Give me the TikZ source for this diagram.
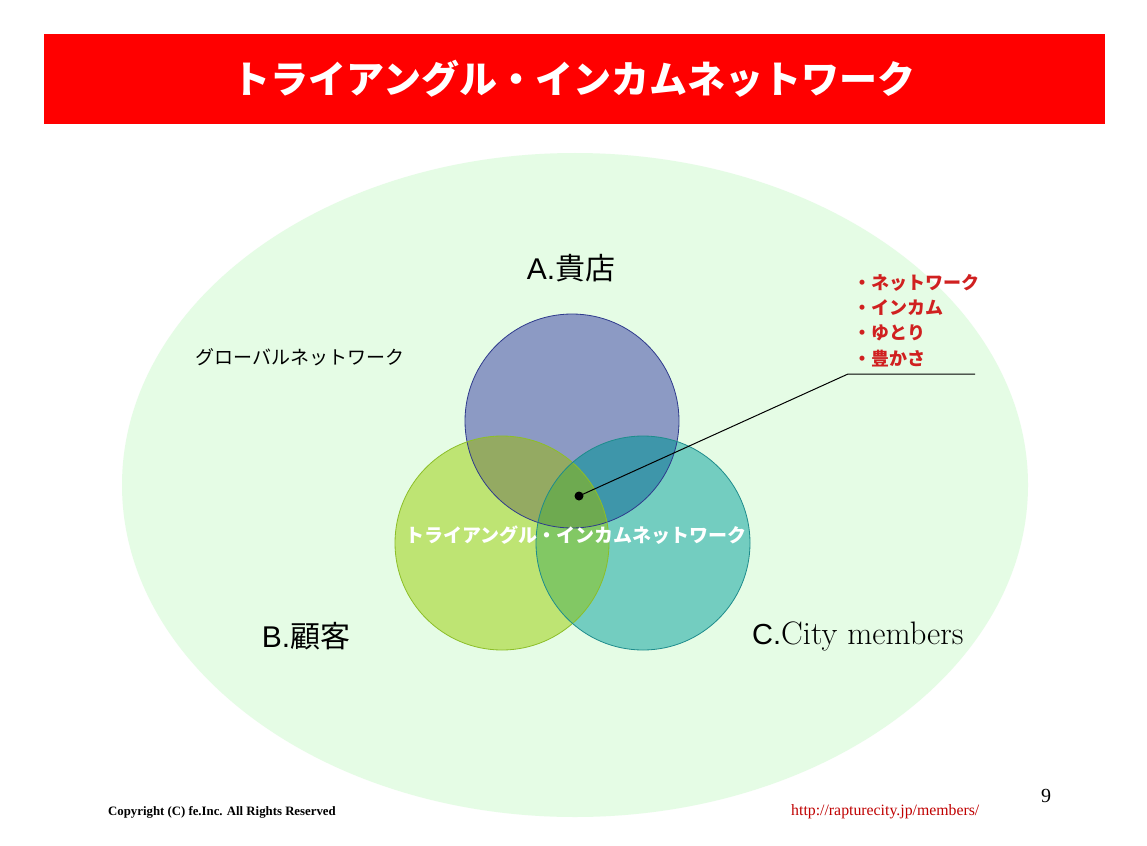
\documentclass[tikz,border=0pt]{standalone}
\usepackage{fontspec}
\newfontfamily\jp{Noto Sans CJK JP}
\newfontfamily\tnr{Liberation Serif}
\newfontfamily\arial{Liberation Sans}
\definecolor{bannerred}{RGB}{255,0,0}
\definecolor{bggreen}{RGB}{229,252,229}
\definecolor{colA}{RGB}{140,154,196}
\definecolor{colB}{RGB}{190,228,115}
\definecolor{colC}{RGB}{115,205,192}
\definecolor{colAB}{RGB}{148,170,98}
\definecolor{colAC}{RGB}{62,150,170}
\definecolor{colBC}{RGB}{130,200,100}
\definecolor{colABC}{RGB}{110,170,80}
\definecolor{lineA}{RGB}{46,58,140}
\definecolor{lineB}{RGB}{140,190,40}
\definecolor{lineC}{RGB}{30,140,140}
\definecolor{listred}{RGB}{208,32,32}
\definecolor{urlred}{RGB}{192,0,0}
\tikzset{
  banner/.style={fill=bannerred, draw=none, minimum width=1061pt, minimum height=90pt, inner sep=0pt},
  titletext/.style={text=white, font=\jp\bfseries\fontsize{38}{40}\selectfont, inner sep=0pt},
  venntext/.style={text=white, font=\jp\bfseries\fontsize{19}{21}\selectfont, inner sep=0pt},
  lbl/.style={font=\jp\fontsize{30}{32}\selectfont, inner sep=0pt},
  small/.style={font=\jp\fontsize{19}{21}\selectfont, inner sep=0pt},
  redlist/.style={text=listred, font=\jp\bfseries\fontsize{18}{25.3}\selectfont, align=left, inner sep=0pt},
  foot/.style={inner sep=0pt},
  circ/.style={line width=0.8pt},
}
\begin{document}
\begin{tikzpicture}[x=1pt,y=-1pt]
\useasboundingbox (0,0) rectangle (1147,845);
\fill[white] (0,0) rectangle (1147,845);
% background ellipse
\fill[bggreen] (575,485) ellipse [x radius=453pt, y radius=332pt];
% banner
\node[banner] (banner) at (574.5,79) {};
\node[titletext] (title) at (574,79) {トライアングル・インカムネットワーク};
% Venn circles
\coordinate (cA) at (572,421);
\coordinate (cB) at (502,543);
\coordinate (cC) at (643,543);
\fill[colA] (cA) circle[radius=107pt];
\fill[colB] (cB) circle[radius=107pt];
\fill[colC] (cC) circle[radius=107pt];
\begin{scope}
  \clip (cA) circle[radius=107pt];
  \fill[colAB] (cB) circle[radius=107pt];
  \fill[colAC] (cC) circle[radius=107pt];
  \clip (cB) circle[radius=107pt];
  \fill[colABC] (cC) circle[radius=107pt];
\end{scope}
\begin{scope}
  \clip (cB) circle[radius=107pt];
  \clip (cC) circle[radius=107pt];
  \fill[colBC] (cC) circle[radius=107pt];
  \clip (cA) circle[radius=107pt];
  \fill[colABC] (cA) circle[radius=107pt];
\end{scope}
\draw[circ, lineA] (cA) circle[radius=107pt];
\draw[circ, lineB] (cB) circle[radius=107pt];
\draw[circ, lineC] (cC) circle[radius=107pt];
% center text
\node[venntext] (vtext) at (576,535) {トライアングル・インカムネットワーク};
% pointer
\coordinate (dot) at (579,496);
\coordinate (bend) at (848,374);
\coordinate (lend) at (975,374);
\fill[black] (dot) circle[radius=4.5pt];
\draw[line width=1pt] (dot) -- (bend) -- (lend);
% list
\node[redlist, anchor=north west] (list) at (853,274) {・ネットワーク\\・インカム\\・ゆとり\\・豊かさ};
% labels
\node[small, anchor=west] (global) at (195,357) {グローバルネットワーク};
\node[lbl] (labA) at (571,268) {{\arial A.}貴店};
\node[lbl] (labB) at (306,636) {{\arial B.}顧客};
\node[anchor=west, inner sep=0pt] (labC) at (752,636) {{\arial\fontsize{29}{31}\selectfont C.}\fontsize{32.5}{34}\selectfont City members};
% footer
\node[foot, anchor=west, font=\tnr\bfseries\fontsize{12.8}{14}\selectfont] (copy) at (108,812) {Copyright (C) fe.Inc. All Rights Reserved};
\node[foot, anchor=west, text=urlred, font=\tnr\fontsize{15.8}{17}\selectfont] (url) at (791,812) {http://rapturecity.jp/members/};
\node[foot, font=\tnr\fontsize{20}{22}\selectfont] (page) at (1046,796) {9};
\end{tikzpicture}
\end{document}
